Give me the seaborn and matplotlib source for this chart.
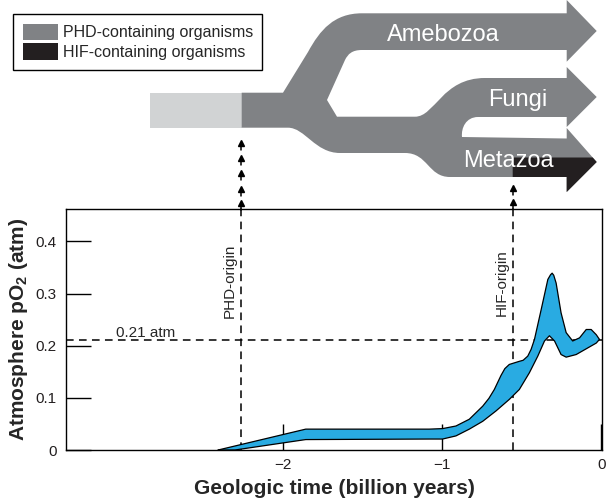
import numpy as np
import matplotlib
matplotlib.use('Agg')
import matplotlib.pyplot as plt
from matplotlib.patches import PathPatch, Patch, Rectangle, Polygon
from matplotlib.path import Path
import seaborn as sns

# atmospheric O2 envelope, time in billion years (negative = ago), pO2 in atm
upper_time = [-2.405, -1.855, -1.08, -0.996, -0.912, -0.828, -0.744, -0.705, -0.671, -0.629,
              -0.605, -0.577, -0.514, -0.490, -0.461, -0.440, -0.419, -0.377, -0.335, -0.318,
              -0.308, -0.298, -0.283, -0.252, -0.220, -0.179, -0.136, -0.094, -0.063, -0.031,
              -0.011]
upper_o2 = [0.0, 0.040, 0.040, 0.041, 0.046, 0.059, 0.084, 0.099, 0.116, 0.143,
            0.156, 0.164, 0.170, 0.172, 0.180, 0.193, 0.212, 0.269, 0.327, 0.336,
            0.339, 0.335, 0.320, 0.263, 0.225, 0.209, 0.215, 0.231, 0.231, 0.221,
            0.212]
lower_time = [-2.405, -2.30, -1.855, -1.08, -0.996, -0.912, -0.828, -0.744, -0.660, -0.577,
              -0.514, -0.451, -0.398, -0.356, -0.325, -0.293, -0.252, -0.220, -0.157, -0.094,
              -0.031, -0.011]
lower_o2 = [0.0, 0.0, 0.020, 0.021, 0.021, 0.027, 0.040, 0.055, 0.075, 0.097,
            0.116, 0.148, 0.180, 0.209, 0.219, 0.209, 0.183, 0.178, 0.183, 0.194,
            0.205, 0.212]

phd_origin = -2.26
hif_origin = -0.555
modern_o2 = 0.21
x_ticks = [-2, -1, 0]
x_ticklabels = ['\u22122', '\u22121', '0']
y_ticks = [0, 0.1, 0.2, 0.3, 0.4]
y_ticklabels = ['0', '0.1', '0.2', '0.3', '0.4']
phd_arrows = [0.474, 0.501, 0.531, 0.560, 0.589]
hif_arrows = [0.476, 0.503]

blue = '#29abe2'
dark_gray = '#808285'
light_gray = '#d1d3d4'
near_black = '#231f20'

sns.set_theme(style='ticks')
plt.rcParams['font.family'] = ['Liberation Sans', 'DejaVu Sans']
plt.rcParams['mathtext.fontset'] = 'custom'
plt.rcParams['mathtext.rm'] = 'Liberation Sans'
plt.rcParams['mathtext.bf'] = 'Liberation Sans:bold'

fig = plt.figure(figsize=(6.06, 5.0), dpi=100)
fig.patch.set_facecolor('white')

# tree schematic, drawn in pixel space
tree_ax = fig.add_axes([0, 0, 1, 1], zorder=0)
tree_ax.set_xlim(0, 606)
tree_ax.set_ylim(500, 0)
tree_ax.axis('off')

L, C = Path.LINETO, Path.CURVE4
verts = [(241.7, 92.7), (283, 92.7), (308, 52),
         (320, 30), (334, 13.3), (362, 13.3),
         (566.7, 13.3), (566.7, 0), (596.7, 31), (566.7, 61.7), (566.7, 50), (362, 50),
         (352, 50), (348, 54), (345, 60),
         (327, 100), (337, 116.7), (415, 116.7),
         (435, 116.7), (442, 78), (485, 78),
         (566.7, 78), (566.7, 67), (596.7, 97), (566.7, 127), (566.7, 117), (478, 117),
         (466, 117), (461, 128), (462, 137),
         (566.7, 138.5), (566.7, 128), (596.7, 162), (566.7, 192), (566.7, 177), (450, 177),
         (428, 177), (428, 153), (405, 153),
         (340, 153),
         (315, 153), (305, 127.7), (288, 127.7),
         (241.7, 127.7), (241.7, 92.7)]
codes = [Path.MOVETO, L, L,
         C, C, C,
         L, L, L, L, L, L,
         C, C, C,
         L, L, L,
         C, C, C,
         L, L, L, L, L, L,
         C, C, C,
         L, L, L, L, L, L,
         C, C, C,
         L,
         C, C, C,
         L, Path.CLOSEPOLY]
tree_ax.add_patch(Rectangle((150, 92.7), 91.7, 35, facecolor=light_gray, edgecolor='none'))
tree_ax.add_patch(PathPatch(Path(verts, codes), facecolor=dark_gray, edgecolor='none'))
tree_ax.add_patch(Polygon([(512.7, 157.5), (592.7, 157.5), (596.7, 162), (566.7, 192),
                           (566.7, 177), (512.7, 177)], closed=True,
                          facecolor=near_black, edgecolor='none'))
tree_ax.text(443, 41, 'Amebozoa', color='white', fontsize=17, ha='center', va='baseline')
tree_ax.text(517.5, 106, 'Fungi', color='white', fontsize=17, ha='center', va='baseline')
tree_ax.text(508, 167, 'Metazoa', color='white', fontsize=17, ha='center', va='baseline')

# oxygen panel
ax = fig.add_axes([66 / 606, 0.1, 536 / 606, 241 / 500], zorder=2)
ax.set_facecolor('white')
ax.fill(upper_time + lower_time[::-1], upper_o2 + lower_o2[::-1],
        facecolor=blue, edgecolor='none', zorder=2)
sns.lineplot(x=upper_time, y=upper_o2, ax=ax, color='black', lw=0.9, sort=False, zorder=3)
sns.lineplot(x=lower_time, y=lower_o2, ax=ax, color='black', lw=0.9, sort=False, zorder=3)

dash = (5, 3.5)
ax.axhline(modern_o2, color='black', lw=1.1, dashes=dash, zorder=1)
ax.plot([phd_origin, phd_origin], [0, 0.47], color='black', lw=1.1, dashes=dash,
        clip_on=False, zorder=1)
ax.plot([hif_origin, hif_origin], [0, 0.47], color='black', lw=1.1, dashes=dash,
        clip_on=False, zorder=1)
for xo, arrows in [(phd_origin, phd_arrows), (hif_origin, hif_arrows)]:
    for ya in arrows:
        ax.plot([xo, xo], [ya - 0.014, ya], color='black', lw=1.1, clip_on=False)
    ax.plot([xo] * len(arrows), arrows, ls='none', marker='^', ms=5, color='black',
            clip_on=False)

ax.text(-2.86, 0.216, '0.21 atm', fontsize=11, ha='center', va='baseline')
ax.text(phd_origin - 0.07, 0.395, 'PHD-origin', fontsize=11, rotation=90,
        ha='center', va='top')
ax.text(hif_origin - 0.07, 0.385, 'HIF-origin', fontsize=11, rotation=90,
        ha='center', va='top')

ax.set_xlim(-3.36, 0.005)
ax.set_ylim(0, 0.462)
ax.set_xticks(x_ticks)
ax.set_xticklabels(x_ticklabels)
ax.set_yticks(y_ticks)
ax.set_yticklabels(y_ticklabels)
ax.tick_params(axis='y', direction='in', length=18, width=1, pad=6.5, labelsize=11,
               colors='black', labelcolor='#231f20')
ax.tick_params(axis='x', direction='in', length=19, width=1, pad=6, labelsize=11,
               colors='black', labelcolor='#231f20')
for s in ax.spines.values():
    s.set_visible(True)
    s.set_color('black')
    s.set_linewidth(1.0)
ax.set_xlabel('Geologic time (billion years)', fontsize=15, fontweight='bold', labelpad=4.5)
ax.set_ylabel(r'Atmosphere pO$_\mathbf{2}$ (atm)', fontsize=15, fontweight='bold',
              labelpad=4)

leg = fig.legend(handles=[Patch(facecolor=dark_gray, edgecolor='none', label='PHD-containing organisms'),
                          Patch(facecolor=near_black, edgecolor='none', label='HIF-containing organisms')],
                 loc='upper left', bbox_to_anchor=(13 / 606, 1 - 14 / 500), borderaxespad=0,
                 frameon=True, fancybox=False, edgecolor='black', framealpha=1,
                 fontsize=11.5, handlelength=2.2, handleheight=1.2, labelspacing=0.2,
                 borderpad=0.6, handletextpad=0.3)
leg.get_frame().set_linewidth(1.0)

fig.savefig('out.png', dpi=100)
